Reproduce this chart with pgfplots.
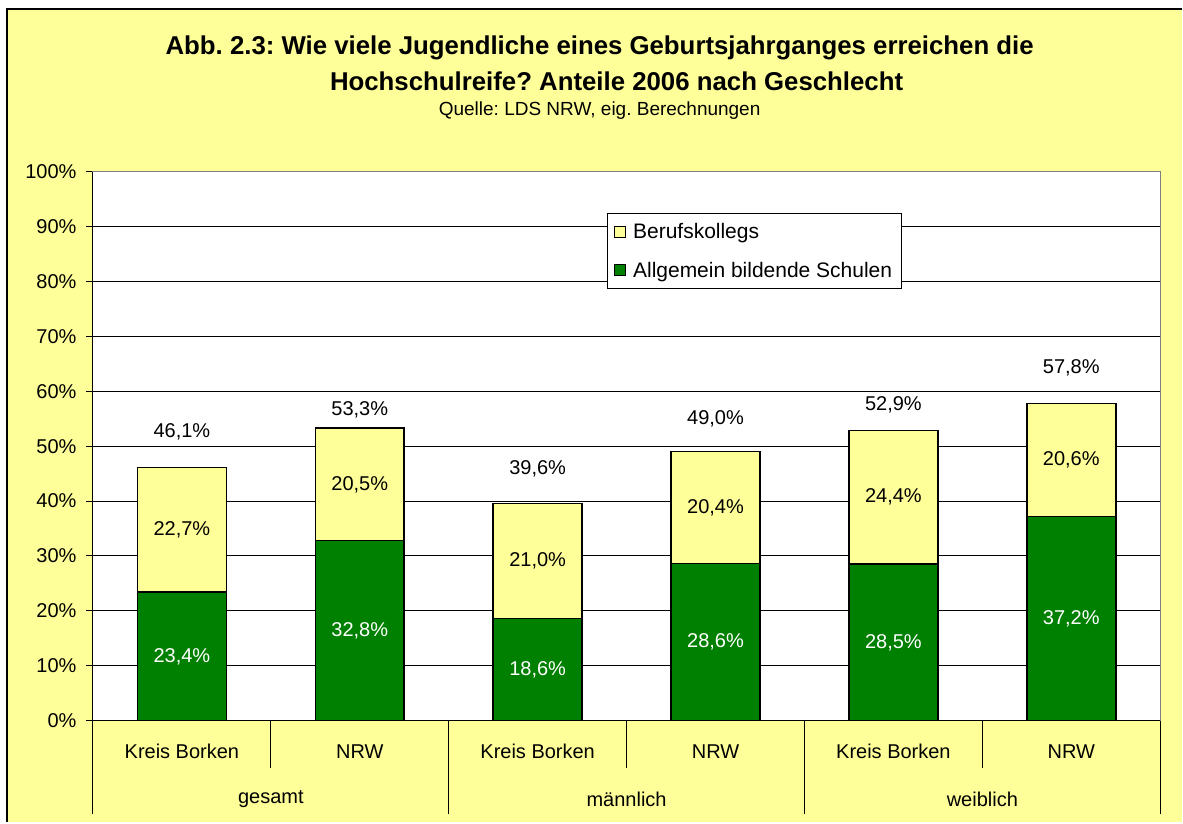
\documentclass[border=0pt]{standalone}
\usepackage{pgfplots}
\pgfplotsset{compat=1.18}
\usepackage{pgfplotstable}
\usepackage{fontspec}
\setmainfont{Liberation Sans}
\definecolor{bgyellow}{HTML}{FFFF99}
\definecolor{bargreen}{HTML}{008000}
\newcommand\fnorm{\fontsize{20}{24}\selectfont}
\newcommand\fleg{\fontsize{21}{25}\selectfont}
\newcommand\fsub{\fontsize{19}{23}\selectfont}
\newcommand\ftitle{\fontsize{25.8}{30}\selectfont\bfseries}
\frenchspacing

\pgfplotstableread{
x g y t ly
0 23.4 22.7 46.1 52.6
1 32.8 20.5 53.3 56.6
2 18.6 21.0 39.6 45.9
3 28.6 20.4 49.0 55.0
4 28.5 24.4 52.9 57.6
5 37.2 20.6 57.8 64.3
}\datatable

\begin{document}
\begin{tikzpicture}[x=1pt,y=1pt]
\fill[white] (0,0) rectangle (1183,823);
\fill[bgyellow] (7,0) rectangle (1183,814);
\draw[black, line width=1.5pt] (7,0) -- (7,814) -- (1183,814);
\path[use as bounding box] (0,0) rectangle (1183,823);

\node[font=\ftitle] at (600,775) {Abb. 2.3: Wie viele Jugendliche eines Geburtsjahrganges erreichen die};
\node[font=\ftitle] at (617,742) {Hochschulreife? Anteile 2006 nach Geschlecht};
\node[font=\fsub] at (600,712) {Quelle: LDS NRW, eig. Berechnungen};

\begin{axis}[
  at={(93pt,102pt)}, anchor=south west,
  scale only axis, width=1068pt, height=549pt,
  xmin=-0.5, xmax=5.5, ymin=0, ymax=100,
  enlargelimits=false, clip=false,
  ybar stacked, bar width=89pt,
  axis background/.style={fill=white},
  axis line style={draw=gray, line width=1pt},
  ytick={0,10,20,30,40,50,60,70,80,90,100},
  yticklabels={0\%,10\%,20\%,30\%,40\%,50\%,60\%,70\%,80\%,90\%,100\%},
  yticklabel style={font=\fnorm, xshift=-6pt},
  ytick pos=left,
  ytick align=outside, major tick length=7pt,
  ytick style={black, line width=1pt},
  ymajorgrids, grid style={black, line width=1pt},
  xtick={0,1,2,3,4,5},
  xticklabels={Kreis Borken,NRW,Kreis Borken,NRW,Kreis Borken,NRW},
  xticklabel style={font=\fnorm, anchor=center, yshift=-31pt},
  xtick style={draw=none},
  reverse legend,
  legend style={at={(rel axis cs:0.4813,0.9253)}, anchor=north west,
    draw=black, line width=1pt, fill=white, font=\fleg,
    row sep=18pt, inner xsep=7pt, inner ysep=8pt,
    nodes={inner sep=2pt},
    /tikz/every odd column/.append style={column sep=5pt}},
  legend cell align=left,
  sq/.style={legend image code/.code={\draw[##1, line width=1pt] (0pt,-5.5pt) rectangle (11pt,5.5pt);}},
  nodes near coords={\pgfmathprintnumber[assume math mode=true,fixed,fixed zerofill,precision=1,use comma]{\pgfplotspointmeta}\%},
  point meta=explicit,
]
\addplot[fill=bargreen, draw=black, line width=1.5pt, sq,
  every node near coord/.append style={anchor=center, text=white, font=\fnorm}]
  table[x=x, y=g, meta=g] {\datatable};
\addlegendentry{Allgemein bildende Schulen}
\addplot[fill=bgyellow, draw=black, line width=1.5pt, sq,
  every node near coord/.append style={anchor=center, text=black, font=\fnorm}]
  table[x=x, y=y, meta=y] {\datatable};
\addlegendentry{Berufskollegs}

\node[font=\fnorm] at (axis cs:0,52.6) {46,1\%};
\node[font=\fnorm] at (axis cs:1,56.6) {53,3\%};
\node[font=\fnorm] at (axis cs:2,45.9) {39,6\%};
\node[font=\fnorm] at (axis cs:3,55.0) {49,0\%};
\node[font=\fnorm] at (axis cs:4,57.6) {52,9\%};
\node[font=\fnorm] at (axis cs:5,64.3) {57,8\%};

\draw[gray, line width=1pt] (rel axis cs:0,1) -- (rel axis cs:1,1) -- (rel axis cs:1,0);
\draw[black, line width=1pt] (rel axis cs:0,1) -- (rel axis cs:0,0) -- (rel axis cs:1,0);
\pgfplotsinvokeforeach{0.5,2.5,4.5}{\draw[black, line width=1pt] (axis cs:#1,0) -- ([yshift=-47pt]axis cs:#1,0);}
\pgfplotsinvokeforeach{-0.5,1.5,3.5,5.5}{\draw[black, line width=1pt] (axis cs:#1,0) -- ([yshift=-94pt]axis cs:#1,0);}
\node[font=\fnorm, yshift=-79pt] at (axis cs:0.5,0) {gesamt};
\node[font=\fnorm, yshift=-79pt] at (axis cs:2.5,0) {männlich};
\node[font=\fnorm, yshift=-79pt] at (axis cs:4.5,0) {weiblich};
\end{axis}
\end{tikzpicture}
\end{document}
